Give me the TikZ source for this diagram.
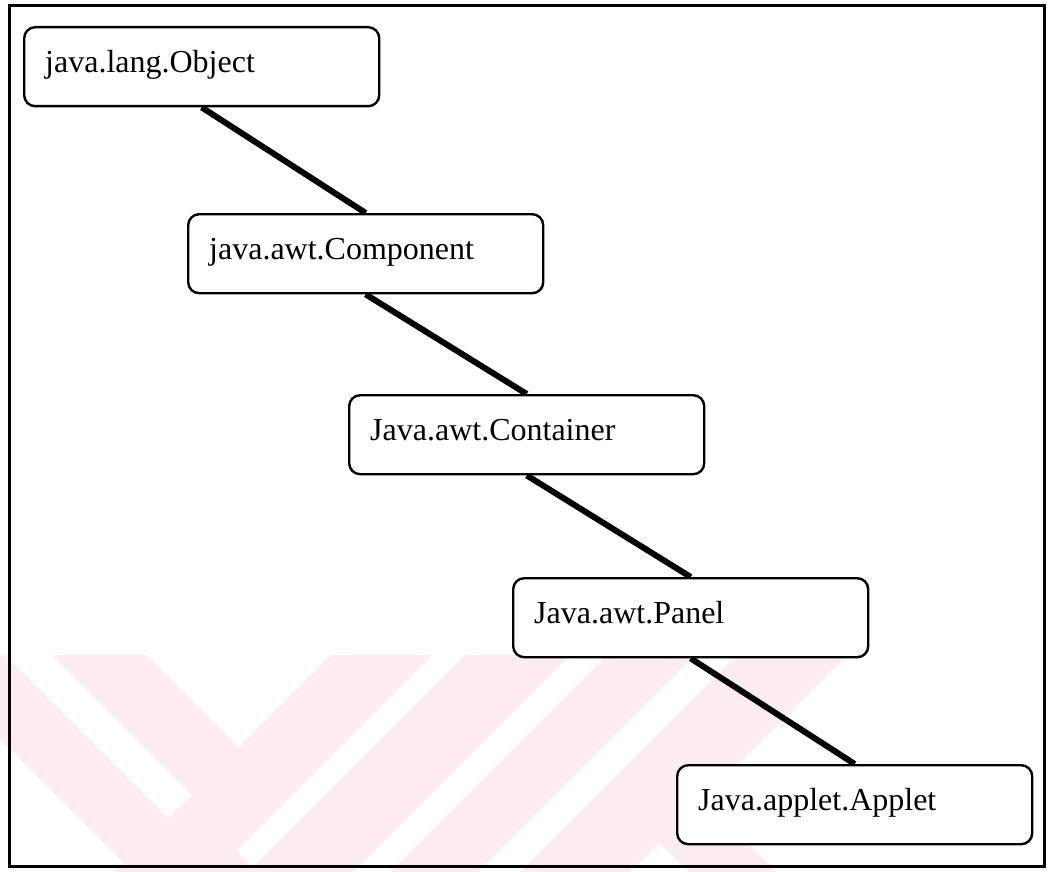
\documentclass[tikz,border=0pt]{standalone}
\usepackage{fontspec}
\setmainfont{Liberation Serif}
\definecolor{wm}{RGB}{253,236,239}
\pgfdeclarelayer{wmlayer}
\pgfdeclarelayer{bg}
\pgfsetlayers{wmlayer,bg,main}
\tikzset{
  box/.style={draw=black, line width=2.4pt, rounded corners=11pt, fill=white,
    minimum width=355pt, anchor=north west, text width=313pt, inner xsep=21pt,
    inner ysep=0pt, align=left, text height=45pt, text depth=34pt,
    font=\fontsize{32}{38}\selectfont},
  link/.style={line width=6pt, draw=black},
  outerframe/.style={line width=3pt, draw=black}
}
\begin{document}
\begin{tikzpicture}[x=1pt,y=-1pt]
\useasboundingbox (0,0) rectangle (1049,872);
% boxes
\node[box] (obj)  at (23,26)   {java.lang.Object};
\node[box] (comp) at (187,213) {java.awt.Component};
\node[box] (cont) at (348,394) {Java.awt.Container};
\node[box] (pan)  at (512,577) {Java.awt.Panel};
\node[box] (app)  at (676,764) {Java.applet.Applet};
% connectors
\begin{pgfonlayer}{bg}
\draw[link] (obj.south) -- (comp.north);
\draw[link] (comp.south) -- (cont.north);
\draw[link] (cont.south) -- (pan.north);
\draw[link] (pan.south) -- (app.north);
\end{pgfonlayer}
% watermark
\begin{pgfonlayer}{wmlayer}
\begin{scope}
\clip (0,655) rectangle (1049,872);
\fill[wm] (-84,655) -- (146,655) -- (363,872) -- (133,872) -- cycle;
\fill[wm] (331,655) -- (847,655) -- (630,872) -- (114,872) -- cycle;
\fill[wm] (517,700) -- (604,700) -- (776,872) -- (689,872) -- cycle;
\fill[white] (5,655) -- (52,655) -- (192,795) -- (168,818) -- cycle;
\fill[white] (432,655) -- (465,655) -- (252.5,867.5) -- (236,851) -- cycle;
\fill[white] (570,655) -- (607,655) -- (390,872) -- (353,872) -- cycle;
\fill[white] (695,655) -- (737,655) -- (520,872) -- (478,872) -- cycle;
\end{scope}
\end{pgfonlayer}
% outer frame
\draw[outerframe] (9.5,6) rectangle (1044.5,866);
\end{tikzpicture}
\end{document}
